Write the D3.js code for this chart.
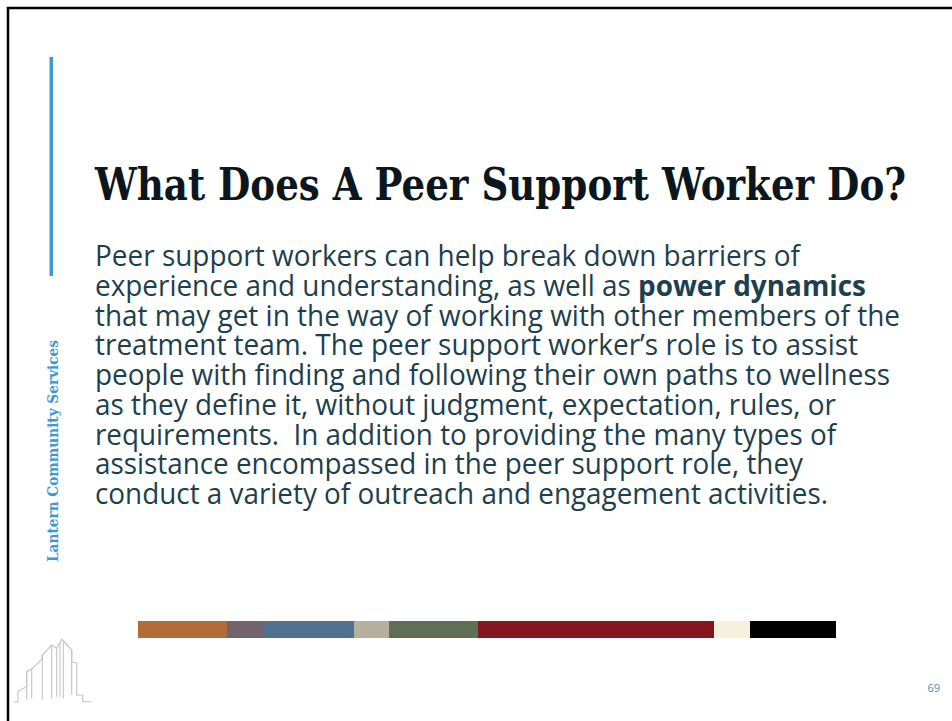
<!DOCTYPE html>
<html>
<head>
<meta charset="utf-8">
<script src="https://cdn.jsdelivr.net/npm/d3@7"></script>
<style>
  html, body { margin: 0; padding: 0; background: #fff; }
  svg { display: block; }
  text { white-space: pre; }
</style>
</head>
<body>
<div id="slide"></div>
<script>
// slide content
const title = 'What Does A Peer Support Worker Do?'
const sideLabel = 'Lantern Community Services'
const pageNumber = '69'

// body lines, [text, bold?] pieces per line
const bodyLines = [
  [['Peer support workers can help break down barriers of', false]],
  [['experience and understanding, as well as ', false], ['power dynamics', true]],
  [['that may get in the way of working with other members of the', false]],
  [['treatment team. The peer support worker\u2019s role is to assist', false]],
  [['people with finding and following their own paths to wellness', false]],
  [['as they define it, without judgment, expectation, rules, or', false]],
  [['requirements.  In addition to providing the many types of', false]],
  [['assistance encompassed in the peer support role, they', false]],
  [['conduct a variety of outreach and engagement activities.', false]]
]
// right end of each line
const lineEnds = [800, 866, 900, 858, 890, 836, 836, 803, 828]

// colour strip: segment widths and colours
const stripWidths = [89, 37, 90, 35, 89, 236, 36, 86]
const stripColors = ['#b36b39', '#72646a', '#4e728f', '#b8b09e', '#5f6e54', '#84171e', '#f7f0dd', '#000000']

// logo outline (building skyline), in logo units
const logoOutline = [[4, 72], [8, 72], [8, 61], [16.7, 56.7], [16.7, 41.7], [21.7, 39], [31.7, 29.3], [32.3, 25], [41.7, 15],
  [46.7, 18.3], [51.7, 9.3], [61.7, 20], [61.7, 31.7], [66.7, 33.3], [66.7, 65], [72.7, 65], [72.7, 71.7], [81.7, 71.7]]
const logoStems = [[16.7, 41.7, 70], [21.7, 39, 68.3], [32.3, 25, 70], [41.7, 15, 68.3], [46.7, 18.3, 66.7],
  [50, 12, 66.7], [53.3, 11, 68.3], [61.7, 20, 65]]

const width = 952
const height = 721

const svg = d3.select('#slide')
  .append('svg')
  .attr('width', width)
  .attr('height', height)

// slide frame (left + top edges visible)
svg.append('path')
  .attr('d', `M8,${height} L8,8 L${width},8`)
  .attr('fill', 'none')
  .attr('stroke', '#000')
  .attr('stroke-width', 2.5)

// blue accent bar
svg.append('rect')
  .attr('x', 49.5)
  .attr('y', 57)
  .attr('width', 3.5)
  .attr('height', 219)
  .attr('fill', '#3d9ad1')

// vertical label
svg.append('text')
  .attr('transform', 'translate(58,562) rotate(-90)')
  .attr('font-family', '"DejaVu Serif", serif')
  .attr('font-weight', 'bold')
  .attr('font-size', 14.5)
  .attr('fill', '#3b9ad4')
  .attr('textLength', 222)
  .attr('lengthAdjust', 'spacingAndGlyphs')
  .text(sideLabel)

// title
svg.append('text')
  .attr('x', 95)
  .attr('y', 200)
  .attr('font-family', '"DejaVu Serif", serif')
  .attr('font-weight', 'bold')
  .attr('font-size', 44)
  .attr('fill', '#0b171c')
  .attr('textLength', 811)
  .attr('lengthAdjust', 'spacingAndGlyphs')
  .text(title)

// body text
const lineY = d3.scaleLinear().domain([0, bodyLines.length - 1]).range([266, 504])

const body = svg.append('g')
  .attr('font-family', '"Open Sans", sans-serif')
  .attr('font-size', 28.5)
  .attr('fill', '#1d3f4e')

bodyLines.forEach((parts, i) => {
  const t = body.append('text')
    .attr('x', 95)
    .attr('y', lineY(i))
    .attr('textLength', lineEnds[i] - 95)
    .attr('lengthAdjust', 'spacingAndGlyphs')
  parts.forEach(([s, b]) => {
    t.append('tspan')
      .attr('font-weight', b ? 'bold' : 'normal')
      .text(s)
  })
})

// colour strip
const stripEnds = d3.cumsum(stripWidths)
const stripX = d3.scaleLinear().domain([0, d3.sum(stripWidths)]).range([138, 836])

svg.append('g')
  .selectAll('rect')
  .data(stripWidths)
  .enter()
  .append('rect')
  .attr('x', (d, i) => stripX(stripEnds[i] - d))
  .attr('y', 621)
  .attr('width', (d, i) => stripX(stripEnds[i]) - stripX(stripEnds[i] - d))
  .attr('height', 17)
  .attr('fill', (d, i) => stripColors[i])

// logo
const lx = d3.scaleLinear().domain([0, 1]).range([10, 11])
const ly = d3.scaleLinear().domain([0, 1]).range([630, 631])
const logo = svg.append('g')
  .attr('fill', 'none')
  .attr('stroke', '#c4c4c4')
  .attr('stroke-width', 1.1)

logo.append('path')
  .attr('d', d3.line().x((d) => lx(d[0])).y((d) => ly(d[1]))(logoOutline))

logo.selectAll('line')
  .data(logoStems)
  .enter()
  .append('line')
  .attr('x1', (d) => lx(d[0]))
  .attr('x2', (d) => lx(d[0]))
  .attr('y1', (d) => ly(d[1]))
  .attr('y2', (d) => ly(d[2]))

// page number
svg.append('text')
  .attr('x', 940)
  .attr('y', 692)
  .attr('text-anchor', 'end')
  .attr('font-family', '"Open Sans", sans-serif')
  .attr('font-size', 11)
  .attr('fill', '#4a8ab5')
  .text(pageNumber)
</script>
</body>
</html>
